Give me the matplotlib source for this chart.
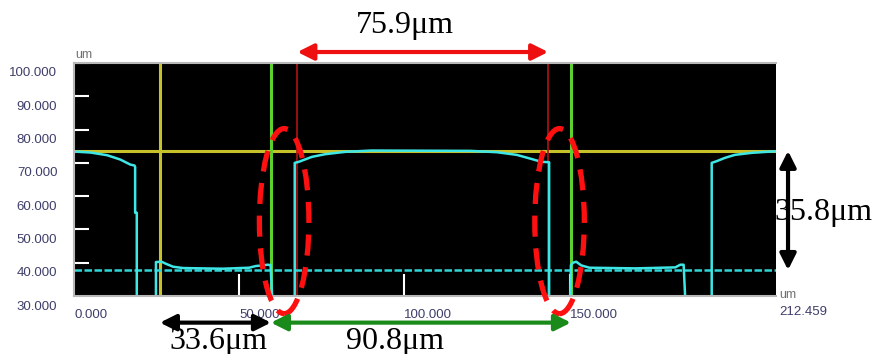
import numpy as np
import matplotlib
matplotlib.use("Agg")
import matplotlib.pyplot as plt
from matplotlib.patches import Ellipse
import matplotlib.transforms as mtransforms

# ---- data (um) ----
profile_x = [0, 5, 10, 14, 17, 18.3, 18.5, 18.5, 19.0, 19.0,
             24.8, 24.8, 26.5, 28, 30, 33, 45, 53, 55, 57, 58.5, 59.5, 60.0,
             66.8, 66.8, 68, 72, 76, 82, 90, 120, 128, 134, 138, 141.5, 143.8, 143.8,
             150.2, 150.4, 151, 152, 153.5, 156, 170, 182, 183.5, 184.5, 185.0,
             193.0, 193.0, 194.5, 197, 200, 205, 212.459]
profile_y = [73.4, 73.1, 72.3, 71.0, 69.5, 69.2, 68.8, 55.0, 55.0, 29,
             29, 40.2, 40.3, 39.6, 38.8, 38.4, 38.2, 38.5, 39.0, 39.2, 39.4, 39.3, 29,
             29, 70.0, 70.3, 71.8, 72.6, 73.3, 73.7, 73.6, 73.2, 72.4, 71.3, 70.3, 70.2, 29,
             29, 39.3, 40.0, 40.3, 39.2, 38.5, 38.3, 38.6, 39.4, 39.4, 29,
             29, 70.0, 70.5, 71.5, 72.4, 73.0, 73.5]

top_level = 73.6       # yellow horizontal cursor
base_level = 37.8      # cyan reference line
yellow_x = 26.0
green_x = [59.6, 150.4]
red_x = [67.6, 143.5]

x_max = 212.459
yticks = [30, 40, 50, 60, 70, 80, 90, 100]
xticks = [0, 50, 100, 150]

label_top = "75.9\u03bcm"
label_left = "33.6\u03bcm"
label_mid = "90.8\u03bcm"
label_height = "35.8\u03bcm"

fig = plt.figure(figsize=(8.72, 3.54), dpi=100)
fig.patch.set_facecolor("white")
ax = fig.add_axes([74/872, 1-296/354, 702/872, 233/354])
ax.set_facecolor("black")
ax.set_xlim(0, x_max)
ax.set_ylim(30, 100)

# cursors
ax.axhline(top_level, color="#c8c22a", lw=2.2, zorder=2)
ax.axvline(yellow_x, color="#c8c22a", lw=2.2, zorder=2)
for gx in green_x:
    ax.axvline(gx, color="#5cd02c", lw=2.2, zorder=2)
for rx in red_x:
    ax.axvline(rx, color="#b01414", lw=1.2, zorder=2)
ax.axhline(base_level, color="#30d6d6", lw=1.8, ls=(0, (3, 1)), zorder=3)

# profile
ax.plot(profile_x, profile_y, color="#3ee6e6", lw=1.8, zorder=4)

# axes styling
ax.spines["right"].set_visible(False)
for s in ["left", "bottom", "top"]:
    ax.spines[s].set_color("#b8b8b8")
    ax.spines[s].set_linewidth(1.5)
    ax.spines[s].set_zorder(5)

lab_color = "#3e3e6a"
ax.set_yticks(yticks)
ax.set_yticklabels([f"{v:.3f}" for v in yticks])
ax.set_xticks(xticks)
ax.set_xticklabels([f"{v:.3f}" for v in xticks])
ax.tick_params(axis="y", direction="in", length=11, width=1.5, color="white",
               pad=12, labelsize=9.5, labelcolor=lab_color)
ax.tick_params(axis="x", direction="in", length=16, width=1.5, color="white",
               pad=9, labelsize=9.5, labelcolor=lab_color)
off_y = mtransforms.ScaledTranslation(0, -9/100, fig.dpi_scale_trans)
for lab in ax.get_yticklabels():
    lab.set_transform(lab.get_transform() + off_y)
    lab.set_fontfamily("Liberation Sans")
for lab in ax.get_xticklabels():
    lab.set_horizontalalignment("left")
    lab.set_fontfamily("Liberation Sans")
ax.yaxis.get_major_ticks()[0].tick1line.set_visible(False)
ax.xaxis.get_major_ticks()[0].tick1line.set_visible(False)

fig.text(75/872, 1-55/354, "um", fontsize=9, color="#707070",
         family="Liberation Sans", va="center", ha="left")
fig.text(779/872, 1-295/354, "um", fontsize=9, color="#707070",
         family="Liberation Sans", va="center", ha="left")
fig.text(779/872, 1-312/354, f"{x_max:.3f}", fontsize=9.5, color=lab_color,
         family="Liberation Sans", va="center", ha="left")

# dashed ellipses around the edges
for cx in [(green_x[0] + red_x[0]) / 2, (red_x[1] + green_x[1]) / 2]:
    e = Ellipse((cx, 52.5), 15.0, 55.6, fill=False, ec="#ff1010", lw=3.8,
                ls=(0, (4, 2.2)), zorder=6, clip_on=False)
    ax.add_patch(e)

# dimension arrows
def dim_arrow(p0, p1, color):
    ax.annotate("", xy=p1, xytext=p0, xycoords="data", textcoords="data",
                annotation_clip=False, zorder=7,
                arrowprops=dict(arrowstyle="<|-|>", color=color, lw=3,
                                mutation_scale=24, shrinkA=0, shrinkB=0))

dim_arrow((red_x[0], 103.3), (red_x[1], 103.3), "#ee1010")
dim_arrow((yellow_x, 22.0), (green_x[0], 22.0), "black")
dim_arrow((green_x[0], 22.0), (green_x[1], 22.0), "#1a8a1a")
dim_arrow((216.1, top_level), (216.1, base_level), "black")

serif = "Liberation Serif"
fig.text(405/872, 1-25/354, label_top, fontsize=23, family=serif,
         ha="center", va="center")
fig.text(218/872, 1-341/354, label_left, fontsize=23, family=serif,
         ha="center", va="center")
fig.text(395/872, 1-341/354, label_mid, fontsize=23, family=serif,
         ha="center", va="center")
fig.text(872/872, 1-213/354, label_height, fontsize=23, family=serif,
         ha="right", va="center", zorder=0.5,
         bbox=dict(facecolor="white", edgecolor="none", pad=0))
ax.set_zorder(1)

fig.savefig("out.png", dpi=100)
